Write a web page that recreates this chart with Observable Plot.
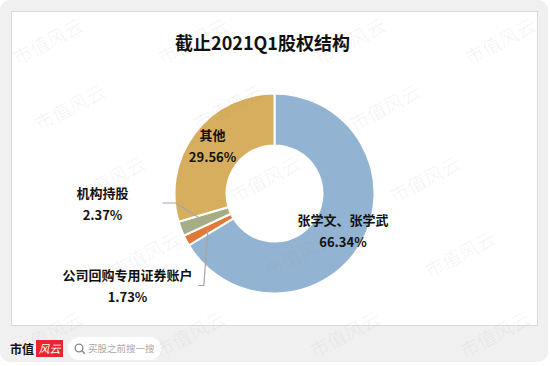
<!DOCTYPE html>
<html><head><meta charset="utf-8">
<script src="https://cdn.jsdelivr.net/npm/d3@7"></script>
<script src="https://cdn.jsdelivr.net/npm/@observablehq/plot@0.6"></script>
<style>
html,body{margin:0;padding:0;background:#fff;width:550px;height:366px;overflow:hidden;font-family:"Noto Sans CJK SC",sans-serif;}
#panel{position:absolute;left:0;top:0;width:548px;height:362px;background:#f0f0f0;border-radius:10px;}
#card{position:absolute;left:11px;top:11px;width:525px;height:313px;background:#fff;border:1px solid #dadada;}
#logo1{position:absolute;left:10px;top:340px;font:bold 12px "Noto Sans CJK SC";color:#111;line-height:17px;}
#logo2{position:absolute;left:36px;top:340px;width:27px;height:17px;background:#e8262b;color:#fff;font:italic 11px "Noto Sans CJK SC";line-height:17px;text-align:center;}
#pill{position:absolute;left:68px;top:337px;width:93px;height:23px;background:#fff;border-radius:12px;}
#pill svg{position:absolute;left:6px;top:6px;}
#pill span{position:absolute;left:20px;top:0;font:9.5px "Noto Sans CJK SC";color:#a8a8a8;line-height:23px;white-space:nowrap;}
#chart{position:absolute;left:0;top:0;}
</style></head><body>
<div id="panel"></div>
<div id="card"></div>
<div id="logo1">市值</div>
<div id="logo2">风云</div>
<div id="pill"><svg width="12" height="12" viewBox="0 0 12 12"><circle cx="5" cy="5" r="3.8" fill="none" stroke="#888" stroke-width="1.3"/><line x1="7.8" y1="7.8" x2="10.8" y2="10.8" stroke="#888" stroke-width="1.4"/></svg><span>买股之前搜一搜</span></div>
<div id="chart"></div>
<script>
// ---- data ----
const categories = ["张学文、张学武", "公司回购专用证券账户", "机构持股", "其他"];
const shares = [66.34, 1.73, 2.37, 29.56];
const shareLabels = ["66.34%", "1.73%", "2.37%", "29.56%"];
const sliceColors = ["#93b3d2", "#e07a3a", "#a6ac83", "#d7ae5e"];
const titleText = "截止2021Q1股权结构";
const watermarkText = "市值风云";

// ---- layout ----
const CX = 274.5, CY = 193.5, R_OUT = 100, R_IN = 48, R_LABEL = 78, R_LEADER = 76;
// outside label placement (relative to donut center); null = inside at centroid
const outsideLayout = [
  null,
  {lx: -147.5, ly: 92.5, elbow: [-71.2, 91.5], end: [-76.2, 91.5]},
  {lx: -172.5, ly: 11, elbow: [-99.5, 9], end: [-112, 9]},
  null
];
const wmRows = [
  {y: 42, xs: [48, 193, 350, 500]},
  {y: 108, xs: [70, 228, 385]},
  {y: 180, xs: [110, 265, 425]},
  {y: 255, xs: [145, 300, 460]},
  {y: 335, xs: [48, 190, 345, 495]}
];

const slices = categories.map((name, i) => ({name, value: shares[i], label: shareLabels[i], color: sliceColors[i], i}));
const arcs = d3.pie().sort(null).value(d => d.value)(slices);

const labelRows = [];
const leaderRows = [];
arcs.forEach((a, i) => {
  const mid = (a.startAngle + a.endAngle) / 2;
  const lay = outsideLayout[i];
  let lx, ly;
  if (!lay) {
    lx = CX + R_LABEL * Math.sin(mid);
    ly = CY - R_LABEL * Math.cos(mid);
  } else {
    lx = CX + lay.lx; ly = CY + lay.ly;
    const sx = CX + R_LEADER * Math.sin(mid), sy = CY - R_LEADER * Math.cos(mid);
    leaderRows.push({x: sx, y: sy, k: i});
    leaderRows.push({x: CX + lay.elbow[0], y: CY + lay.elbow[1], k: i});
    leaderRows.push({x: CX + lay.end[0], y: CY + lay.end[1], k: i});
  }
  labelRows.push({x: lx, y: ly - 11, text: a.data.name});
  labelRows.push({x: lx, y: ly + 11, text: a.data.label});
});

const wm = [];
wmRows.forEach(r => r.xs.forEach(x => wm.push({x, y: r.y})));

function donut() {
  const g = d3.create("svg:g").attr("transform", `translate(${CX},${CY})`);
  const arc = d3.arc().innerRadius(R_IN).outerRadius(R_OUT);
  g.selectAll("path").data(arcs).join("path")
    .attr("d", arc)
    .attr("fill", d => d.data.color)
    .attr("stroke", "#fff")
    .attr("stroke-width", 2)
    .attr("stroke-linejoin", "miter");
  return g.node();
}

const chart = Plot.plot({
  width: 550, height: 366, margin: 0,
  x: {type: "identity", axis: null},
  y: {type: "identity", axis: null},
  style: {background: "transparent", fontFamily: "'Noto Sans CJK SC', sans-serif"},
  marks: [
    Plot.text([titleText], {x: 262, y: 44, text: d => d, fontSize: 18, fontWeight: "bold", fill: "#111"}),
    donut,
    Plot.line(leaderRows, {x: "x", y: "y", z: "k", stroke: "#a5a5a5", strokeWidth: 1.2, curve: "linear"}),
    Plot.text(labelRows, {x: "x", y: "y", text: "text", fontSize: 13, fontWeight: "bold", fill: "#111"}),
    Plot.text(wm, {x: "x", y: "y", text: () => watermarkText, rotate: -28, fontSize: 19, fill: "#888", fillOpacity: 0.11, fontWeight: 300})
  ]
});
document.getElementById("chart").appendChild(chart);
</script>
</body></html>
